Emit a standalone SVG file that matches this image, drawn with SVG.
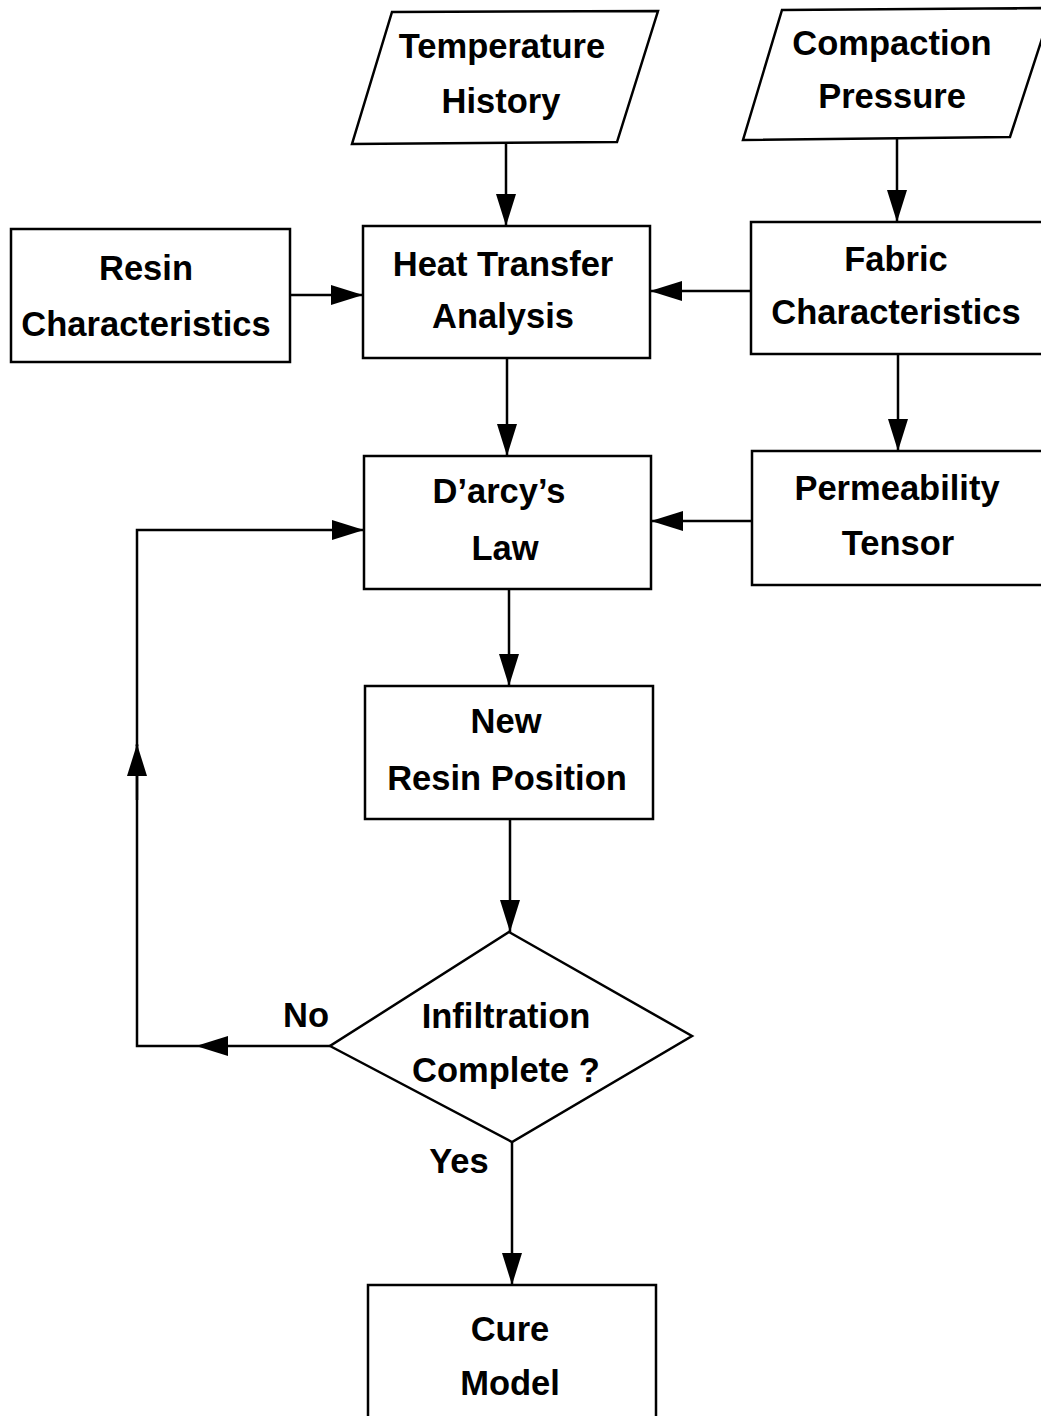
<svg xmlns="http://www.w3.org/2000/svg" width="1041" height="1416" viewBox="0 0 1041 1416">
<defs>
<marker id="ah" viewBox="0 0 32 20" refX="32" refY="10" markerWidth="32" markerHeight="20" markerUnits="userSpaceOnUse" orient="auto">
<path d="M0,0 L32,10 L0,20 Z" fill="#000"/>
</marker>
<style>
.s{fill:#fff;stroke:#000;stroke-width:2.5}
.t{font-family:"Liberation Sans",Arial,sans-serif;font-weight:bold;font-size:34.5px;fill:#000;text-anchor:middle}
.c{fill:none;stroke:#000;stroke-width:2.5}
</style>
</defs>
<rect width="1041" height="1416" fill="#fff"/>
<g id="connectors">
<line class="c" x1="506" y1="144" x2="506" y2="226" marker-end="url(#ah)"/>
<line class="c" x1="897" y1="139" x2="897" y2="222" marker-end="url(#ah)"/>
<line class="c" x1="290" y1="295" x2="363" y2="295" marker-end="url(#ah)"/>
<line class="c" x1="751" y1="291" x2="650" y2="291" marker-end="url(#ah)"/>
<line class="c" x1="507" y1="358" x2="507" y2="456" marker-end="url(#ah)"/>
<line class="c" x1="898" y1="354" x2="898" y2="451" marker-end="url(#ah)"/>
<line class="c" x1="752" y1="521" x2="651" y2="521" marker-end="url(#ah)"/>
<line class="c" x1="509" y1="589" x2="509" y2="686" marker-end="url(#ah)"/>
<line class="c" x1="510" y1="819" x2="510" y2="932" marker-end="url(#ah)"/>
<line class="c" x1="512" y1="1142" x2="512" y2="1285" marker-end="url(#ah)"/>
<line class="c" x1="330" y1="1046" x2="196" y2="1046" marker-end="url(#ah)"/>
<polyline class="c" points="196,1046 137,1046 137,745"/>
<line class="c" x1="137" y1="800" x2="137" y2="744" marker-end="url(#ah)"/>
<polyline class="c" points="137,746 137,530 364,530" marker-end="url(#ah)"/>
</g>
<g id="temperature-history">
<polygon class="s" points="392,12 658,11 617,142 352,144"/>
<text class="t" x="502" y="58">Temperature</text>
<text class="t" x="501" y="113">History</text>
</g>
<g id="compaction-pressure">
<polygon class="s" points="782,10 1052,8 1010,137 743,140"/>
<text class="t" x="892" y="55">Compaction</text>
<text class="t" x="892" y="108">Pressure</text>
</g>
<g id="resin-characteristics">
<rect class="s" x="11" y="229" width="279" height="133"/>
<text class="t" x="146" y="280">Resin</text>
<text class="t" x="146" y="336">Characteristics</text>
</g>
<g id="heat-transfer">
<rect class="s" x="363" y="226" width="287" height="132"/>
<text class="t" x="503" y="276">Heat Transfer</text>
<text class="t" x="503" y="328">Analysis</text>
</g>
<g id="fabric-characteristics">
<rect class="s" x="751" y="222" width="300" height="132"/>
<text class="t" x="896" y="271">Fabric</text>
<text class="t" x="896" y="324">Characteristics</text>
</g>
<g id="darcys-law">
<rect class="s" x="364" y="456" width="287" height="133"/>
<text class="t" x="499" y="503">D’arcy’s</text>
<text class="t" x="505" y="560">Law</text>
</g>
<g id="permeability-tensor">
<rect class="s" x="752" y="451" width="300" height="134"/>
<text class="t" x="897" y="500">Permeability</text>
<text class="t" x="898" y="555">Tensor</text>
</g>
<g id="new-resin-position">
<rect class="s" x="365" y="686" width="288" height="133"/>
<text class="t" x="506" y="733">New</text>
<text class="t" x="507" y="790">Resin Position</text>
</g>
<g id="infiltration-complete">
<polygon class="s" points="509,932 692,1036 512,1142 330,1046"/>
<text class="t" x="506" y="1028">Infiltration</text>
<text class="t" x="506" y="1082">Complete ?</text>
</g>
<g id="labels">
<text class="t" x="306" y="1027">No</text>
<text class="t" x="459" y="1173">Yes</text>
</g>
<g id="cure-model">
<rect class="s" x="368" y="1285" width="288" height="140"/>
<text class="t" x="510" y="1341">Cure</text>
<text class="t" x="510" y="1395">Model</text>
</g>
</svg>
